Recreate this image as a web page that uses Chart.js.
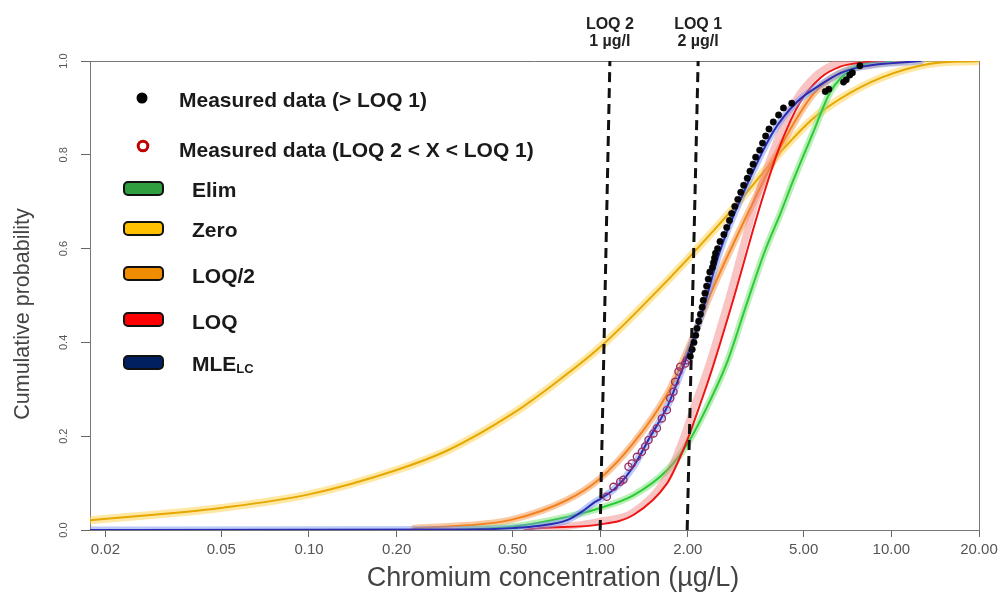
<!DOCTYPE html>
<html><head><meta charset="utf-8">
<script src="https://cdn.jsdelivr.net/npm/chart.js@4.4.0/dist/chart.umd.min.js"></script>
<style>html,body{margin:0;padding:0;background:#fff}#wrap{width:1003px;height:593px;position:relative}</style>
</head><body><div id="wrap"><canvas id="c" width="1003" height="593"></canvas></div>
<script>
// ---- data ----
const xTickValues = [0.02, 0.05, 0.1, 0.2, 0.5, 1, 2, 5, 10, 20];
const yTickValues = [0, 0.2, 0.4, 0.6, 0.8, 1.0];
const legendLabels = ['Measured data (> LOQ 1)', 'Measured data (LOQ 2 < X < LOQ 1)', 'Elim', 'Zero', 'LOQ/2', 'LOQ', 'MLE'];
const loqLabels = [['LOQ 2', '1 \u00b5g/l'], ['LOQ 1', '2 \u00b5g/l']];

const measuredAbove = [[2.04,0.37],[2.07,0.385],[2.10,0.40],[2.13,0.415],[2.15,0.43],[2.18,0.445],[2.21,0.46],[2.24,0.475],[2.26,0.49],[2.29,0.505],[2.32,0.52],[2.35,0.535],[2.38,0.55],[2.43,0.56],[2.45,0.57],[2.47,0.58],[2.49,0.59],[2.53,0.60],[2.58,0.615],[2.66,0.63],[2.72,0.645],[2.78,0.66],[2.83,0.675],[2.90,0.69],[2.97,0.705],[3.04,0.72],[3.11,0.735],[3.20,0.75],[3.27,0.765],[3.35,0.78],[3.42,0.795],[3.53,0.81],[3.61,0.825],[3.70,0.84],[3.80,0.855],[3.93,0.87],[4.10,0.885],[4.26,0.90],[4.55,0.91],[5.93,0.935],[6.10,0.94],[6.85,0.955],[7.00,0.96],[7.20,0.97],[7.35,0.975],[7.80,0.99]];
const measuredBetween = [[1.054,0.071],[1.111,0.092],[1.172,0.103],[1.202,0.107],[1.251,0.135],[1.285,0.142],[1.337,0.156],[1.391,0.167],[1.428,0.178],[1.466,0.192],[1.525,0.206],[1.566,0.217],[1.629,0.238],[1.695,0.256],[1.740,0.281],[1.786,0.295],[1.810,0.316],[1.858,0.338],[1.883,0.348],[1.960,0.355],[1.986,0.362]];

const elimCurve = [[0.33,0],[0.37,0.002],[0.5,0.007],[0.77,0.028],[1.0,0.047],[1.3,0.074],[1.7,0.128],[2.0,0.185],[2.39,0.277],[2.73,0.358],[3.2,0.486],[3.69,0.597],[4.155,0.674],[4.6,0.745],[5.4,0.849],[6.17,0.934],[7.23,0.981],[8.47,0.997],[10,1.0]];
const zeroCurve = [[0.0177,0.021],[0.03,0.033],[0.05,0.047],[0.1,0.076],[0.2,0.128],[0.3,0.17],[0.5,0.248],[0.7,0.313],[1.0,0.39],[1.5,0.497],[2.0,0.578],[3.0,0.70],[4.15,0.805],[5.4,0.878],[6.7,0.92],[9.2,0.964],[13.6,0.994],[20,1.0]];
const halfLoqCurve = [[0.23,0.004],[0.35,0.01],[0.49,0.021],[0.77,0.064],[1.0,0.11],[1.3,0.185],[1.7,0.29],[2.0,0.385],[2.45,0.518],[3.36,0.70],[4.15,0.815],[4.87,0.89],[5.4,0.93],[6.7,0.975],[9.2,0.995],[11.3,1.0]];
const loqCurve = [[0.55,0],[0.62,0.004],[1.0,0.012],[1.3,0.032],[1.7,0.10],[1.85,0.145],[2.0,0.195],[2.21,0.27],[2.4,0.335],[2.86,0.49],[3.55,0.693],[4.15,0.82],[4.87,0.913],[5.7,0.964],[6.68,0.988],[8.0,0.997],[9.5,1.0]];
const loqBand = [[0.622,0],[1.0,0.019],[1.298,0.038],[1.699,0.115],[1.929,0.196],[2.121,0.271],[2.313,0.335],[2.754,0.49],[3.41,0.697],[3.994,0.821],[4.679,0.915],[5.48,0.968],[6.42,0.994],[7.52,1.0]];
const mleCurve = [[0.0177,0],[0.35,0.001],[0.5,0.004],[0.62,0.009],[0.77,0.021],[0.87,0.040],[0.95,0.058],[1.0,0.066],[1.14,0.092],[1.3,0.135],[1.48,0.197],[1.7,0.263],[1.84,0.315],[2.21,0.452],[2.58,0.595],[3.03,0.704],[3.93,0.849],[4.75,0.913],[5.7,0.949],[6.68,0.974],[7.95,0.988],[12.6,1.0]];
const loq2Line = [[1.0,0],[1.08,1.0]];
const loq1Line = [[1.99,0],[2.17,1.0]];

// ---- styles ----
const FONT = "'Liberation Sans', Arial, sans-serif";
const pts = a => a.map(p => ({x: p[0], y: p[1]}));
function curve(data, color, width, order) {
  return {data: pts(data), showLine: true, pointRadius: 0, borderColor: color, borderWidth: width,
          fill: false, cubicInterpolationMode: 'monotone', order: order, borderCapStyle: 'round'};
}
const datasets = [
  Object.assign(curve(loq2Line, '#111', 3, 0), {borderDash: [10, 6], cubicInterpolationMode: 'default', borderCapStyle: 'butt'}),
  Object.assign(curve(loq1Line, '#111', 3, 0), {borderDash: [10, 6], cubicInterpolationMode: 'default', borderCapStyle: 'butt'}),
  {data: pts(measuredAbove), pointRadius: 3.2, pointBackgroundColor: '#050505', pointBorderColor: '#050505', pointBorderWidth: 0.5, showLine: false, order: 1},
  {data: pts(measuredBetween), pointRadius: 3.6, pointBackgroundColor: 'rgba(0,0,0,0)', pointBorderColor: '#992c62', pointBorderWidth: 1.3, showLine: false, order: 2},
  curve(mleCurve, '#2a2ab4', 2, 3),
  curve(mleCurve, 'rgba(120,150,240,0.5)', 7, 4),
  curve(loqCurve, '#f01414', 2, 5),
  curve(loqBand, 'rgba(240,125,125,0.45)', 7, 6),
  curve(elimCurve, '#2ccb36', 2, 7),
  curve(elimCurve, 'rgba(130,225,130,0.55)', 7, 8),
  curve(halfLoqCurve, '#f58220', 2, 9),
  curve(halfLoqCurve, 'rgba(245,165,100,0.6)', 7, 10),
  curve(zeroCurve, '#e6a800', 2, 11),
  curve(zeroCurve, 'rgba(255,212,90,0.55)', 8, 12)
];

const decorPlugin = {
  id: 'decor',
  beforeDatasetsDraw(chart) {
    const {ctx, chartArea: a} = chart;
    ctx.save();
    ctx.strokeStyle = '#777';
    ctx.lineWidth = 1;
    ctx.beginPath();
    ctx.moveTo(a.left, a.top + 0.5); ctx.lineTo(a.right + 0.5, a.top + 0.5); ctx.lineTo(a.right + 0.5, a.bottom);
    ctx.stroke();
    ctx.restore();
  },
  afterDraw(chart) {
    const {ctx} = chart;
    const xs = chart.scales.x;
    ctx.save();
    // LOQ labels above the dashed lines
    ctx.fillStyle = '#222';
    ctx.font = 'bold 16px ' + FONT;
    ctx.textAlign = 'center';
    ctx.textBaseline = 'alphabetic';
    [loq2Line, loq1Line].forEach((ln, i) => {
      const cx = xs.getPixelForValue(ln[1][0]);
      ctx.fillText(loqLabels[i][0], cx, 29);
      ctx.fillText(loqLabels[i][1], cx, 46);
    });
    // legend
    ctx.textAlign = 'left';
    ctx.fillStyle = '#000';
    ctx.beginPath(); ctx.arc(142, 98, 5.5, 0, Math.PI * 2); ctx.fill();
    ctx.strokeStyle = '#c00000'; ctx.lineWidth = 3;
    ctx.beginPath(); ctx.arc(143, 146, 4.8, 0, Math.PI * 2); ctx.stroke();
    ctx.fillStyle = '#1a1a1a';
    ctx.font = 'bold 21px ' + FONT;
    ctx.fillText(legendLabels[0], 179, 107);
    ctx.fillText(legendLabels[1], 179, 157);
    const sw = [['#2e9e3e', 182, 197], ['#ffc000', 222, 237], ['#f08c00', 267, 283], ['#ff0000', 313, 329], ['#002060', 356, 371]];
    sw.forEach((s, i) => {
      ctx.fillStyle = s[0];
      ctx.strokeStyle = '#111';
      ctx.lineWidth = 2;
      ctx.beginPath(); ctx.roundRect(124, s[1], 39, 13, 4); ctx.fill(); ctx.stroke();
      ctx.fillStyle = '#1a1a1a';
      ctx.font = 'bold 21px ' + FONT;
      ctx.fillText(legendLabels[2 + i], 192, s[2]);
      if (i === 4) {
        const w = ctx.measureText(legendLabels[6]).width;
        ctx.font = 'bold 13px ' + FONT;
        ctx.fillText('LC', 192 + w, s[2] + 2);
      }
    });
    // axis titles
    ctx.fillStyle = '#444';
    ctx.font = '27px ' + FONT;
    ctx.textAlign = 'center';
    ctx.fillText('Chromium concentration (\u00b5g/L)', 553, 586);
    ctx.translate(23, 314);
    ctx.rotate(-Math.PI / 2);
    ctx.font = '21.5px ' + FONT;
    ctx.textBaseline = 'middle';
    ctx.fillText('Cumulative probability', 0, 0);
    ctx.restore();
  }
};

new Chart(document.getElementById('c'), {
  type: 'scatter',
  data: {datasets},
  options: {
    responsive: false, animation: false, devicePixelRatio: 1,
    layout: {padding: {left: 0, right: 24, top: 61, bottom: 0}},
    plugins: {legend: {display: false}, tooltip: {enabled: false}},
    scales: {
      x: {
        type: 'logarithmic', min: 0.0177, max: 20,
        afterBuildTicks: s => { s.ticks = xTickValues.map(v => ({value: v})); },
        afterFit: s => { s.height = 63; },
        ticks: {autoSkip: false, maxRotation: 0, minRotation: 0, padding: 4, color: '#555',
                font: {family: FONT, size: 15}, callback: v => Number(v).toFixed(2)},
        grid: {drawOnChartArea: false, drawTicks: true, tickLength: 7, color: '#666'},
        border: {display: true, color: '#777'}
      },
      y: {
        type: 'linear', min: 0, max: 1,
        afterBuildTicks: s => { s.ticks = yTickValues.map(v => ({value: v})); },
        afterFit: s => { s.width = 90; },
        ticks: {minRotation: 90, maxRotation: 90, crossAlign: 'center', padding: 9, color: '#555',
                font: {family: FONT, size: 11}, callback: v => Number(v).toFixed(1)},
        grid: {drawOnChartArea: false, drawTicks: true, tickLength: 9, color: '#666'},
        border: {display: true, color: '#777'}
      }
    }
  },
  plugins: [decorPlugin]
});
</script></body></html>
